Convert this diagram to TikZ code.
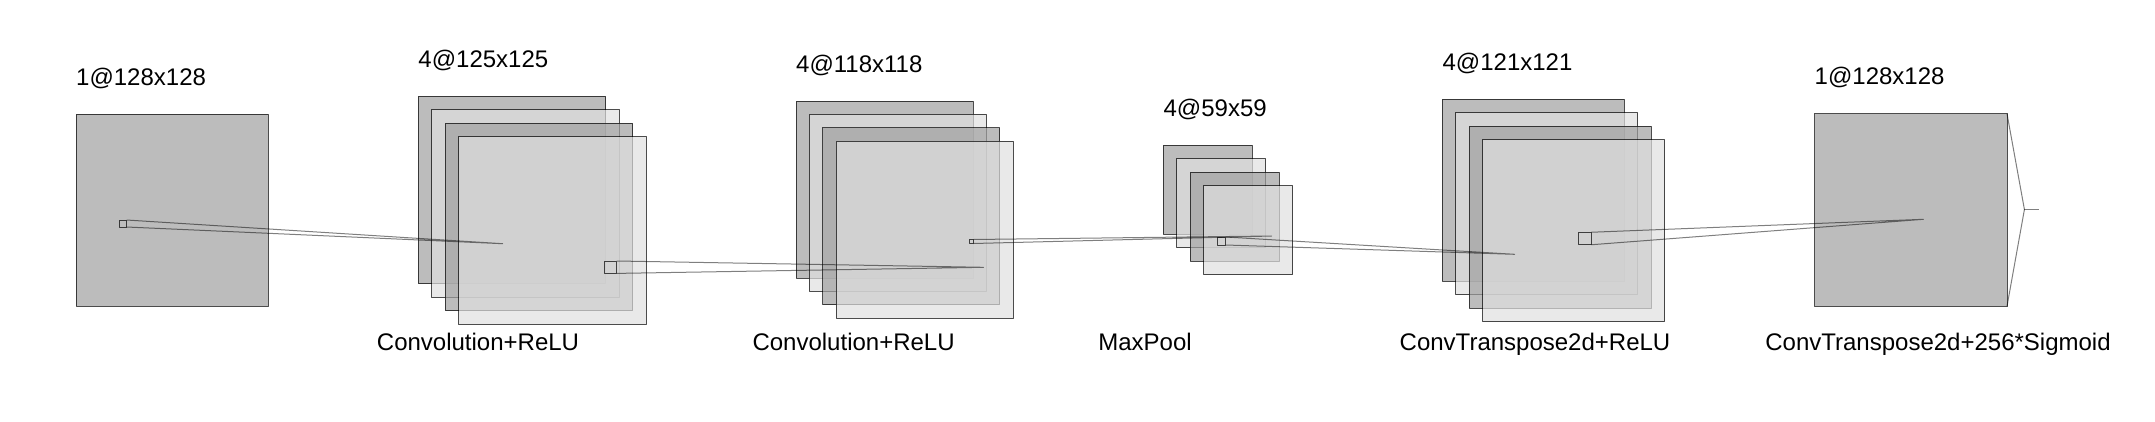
\documentclass[tikz,border=0pt]{standalone}
\usepackage{fontspec}
\setmainfont{Liberation Sans}
\usetikzlibrary{positioning}
\definecolor{mapdark}{RGB}{160,160,160}
\definecolor{maplight}{RGB}{224,224,224}

\begin{document}
\begin{tikzpicture}[x=1pt,y=-1pt,line join=round,
    font=\fontsize{24}{29}\selectfont,
    fmap/.style={draw=black,draw opacity=0.7,fill opacity=0.7,line width=1pt,inner sep=0pt,outer sep=0pt},
    dark/.style={fmap,fill=mapdark},
    light/.style={fmap,fill=maplight},
    kernel/.style={draw=black,draw opacity=0.7,line width=1pt,inner sep=0pt,outer sep=0pt},
    conn/.style={draw=black,draw opacity=0.5,line width=1pt},
    toplabel/.style={anchor=base west,inner sep=0pt},
    oplabel/.style={anchor=base,inner sep=0pt}]
      \useasboundingbox (0,0) rectangle (2155,421);

      % input
      \node[dark,minimum size=192pt] (in) at (172,210) {};
      \node[toplabel] (tin) at ([yshift=29pt]in.north west) {1@128x128};

      % conv 1
      \foreach \i/\s in {1/dark,2/light,3/dark,4/light}{
        \node[\s,minimum size=187.5pt] (ca-\i) at ({512+13.5*(\i-1)},{190+13.5*(\i-1)}) {};
      }
      \node[toplabel] (tca) at ([yshift=29pt]ca-1.north west) {4@125x125};
      \node[oplabel] (oca) at (478,350) {Convolution+ReLU};

      % conv 2
      \foreach \i/\s in {1/dark,2/light,3/dark,4/light}{
        \node[\s,minimum size=177pt] (cb-\i) at ({884.5+13.4*(\i-1)},{189.5+13.4*(\i-1)}) {};
      }
      \node[toplabel] (tcb) at ([yshift=29pt]cb-1.north west) {4@118x118};
      \node[oplabel] (ocb) at (853.6,350) {Convolution+ReLU};

      % pool
      \foreach \i/\s in {1/dark,2/light,3/dark,4/light}{
        \node[\s,minimum size=89pt] (mp-\i) at ({1207.9+13.5*(\i-1)},{189.8+13.5*(\i-1)}) {};
      }
      \node[toplabel] (tmp) at ([yshift=29pt]mp-1.north west) {4@59x59};
      \node[oplabel] (omp) at (1145,350) {MaxPool};

      % transposed conv
      \foreach \i/\s in {1/dark,2/light,3/dark,4/light}{
        \node[\s,minimum size=182pt] (ct-\i) at ({1533.4+13.5*(\i-1)},{190+13.5*(\i-1)}) {};
      }
      \node[toplabel] (tct) at ([yshift=29pt]ct-1.north west) {4@121x121};
      \node[oplabel] (oct) at (1535,350) {ConvTranspose2d+ReLU};

      % output
      \node[dark,minimum size=192.5pt] (out) at (1910.75,210) {};
      \node[toplabel] (tout) at ([yshift=29pt]out.north west) {1@128x128};
      \node[oplabel] (oout) at (1938,350) {ConvTranspose2d+256*Sigmoid};

      % kernels and where they land
      \node[kernel,minimum size=7pt] (ka) at (123,223.5) {};
      \node[kernel,minimum size=12.4pt] (kb) at (610.5,267.2) {};
      \node[kernel,minimum size=4pt] (kc) at (971.3,241.5) {};
      \node[kernel,minimum size=8pt] (kd) at (1221.7,241) {};
      \node[kernel,minimum size=12.5pt] (ke) at (1585,238.5) {};
      \coordinate (pa) at (502.7,243.7);
      \coordinate (pb) at (983.5,267.3);
      \coordinate (pc) at (1271.5,236);
      \coordinate (pd) at (1514.6,254.3);
      \coordinate (pe) at (1923.4,219.3);

      \draw[conn] (ka.north east) -- (pa) -- (ka.south east);
      \draw[conn] (kb.north east) -- (pb) -- (kb.south east);
      \draw[conn] (kc.north east) -- (pc) -- (kc.south east);
      \draw[conn] (kd.north east) -- (pd) -- (kd.south east);
      \draw[conn] (ke.north east) -- (pe) -- (ke.south east);

      \coordinate (apex) at (2024.4,209.5);
      \coordinate (tick) at (2039.4,209.5);
      \draw[conn] (out.north east) -- (apex) -- (out.south east);
      \draw[conn] (apex) -- (tick);
\end{tikzpicture}
\end{document}
